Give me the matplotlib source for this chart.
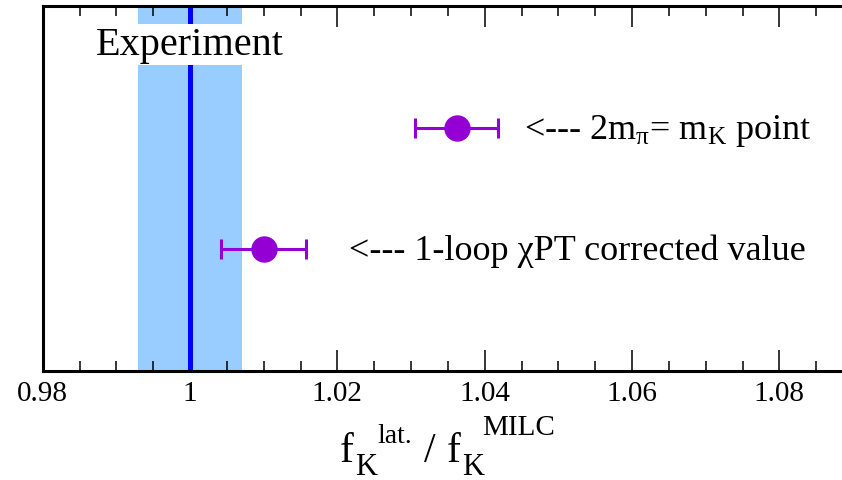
"""Ratio of lattice f_K to the MILC value, compared with experiment."""

import matplotlib.pyplot as plt
from matplotlib.ticker import MultipleLocator

plt.rcParams["font.family"] = ["Liberation Serif", "DejaVu Serif"]
plt.rcParams["mathtext.fontset"] = "custom"
plt.rcParams["mathtext.rm"] = "Liberation Serif"
plt.rcParams["mathtext.it"] = "Liberation Serif"

# experimental band (central value and half-width)
exp_center = 1.0
exp_halfwidth = 0.007

# lattice points
point_labels = [r"<--- 2m$_{\pi}$= m$_{K}$ point", "<--- 1-loop χPT corrected value"]
point_x = [1.0362, 1.0100]
point_err = [0.0056, 0.0058]
point_y = [2, 1]
label_x = [1.0453, 1.0216]

PURPLE = "#9400D3"
W, H = 842, 481

fig = plt.figure(figsize=(W / 100, H / 100), dpi=100)
ax = fig.add_axes([42.7 / W, 1 - 371.7 / H, 1 - 42.7 / W, (371.7 - 7) / H])

ax.axvspan(exp_center - exp_halfwidth, exp_center + exp_halfwidth,
           color="#99CCFF", lw=0, zorder=1)
ax.axvline(exp_center, color="#0000FF", lw=3.6, zorder=2)
ax.text(exp_center, 2.685, "Experiment", ha="center", va="center", fontsize=29,
        zorder=5, bbox=dict(facecolor="white", edgecolor="none", pad=1.5))

for x, err, y, lx, label in zip(point_x, point_err, point_y, label_x, point_labels):
    ax.errorbar(x, y, xerr=err, fmt="o", color=PURPLE, ms=18, elinewidth=2.2,
                capsize=7.5, capthick=2.2, zorder=4)
    ax.text(lx, y - 0.085, label, ha="left", va="baseline", fontsize=26)

ax.set_xlim(0.98, 1.0885)
ax.set_ylim(0, 3)
ax.xaxis.set_major_locator(MultipleLocator(0.02))
ax.xaxis.set_minor_locator(MultipleLocator(0.005))
ax.xaxis.set_major_formatter(plt.FuncFormatter(lambda v, _: f"{v:g}"))
ax.tick_params(axis="x", which="both", direction="in", top=True, width=1.1,
               labelsize=21, pad=7)
ax.tick_params(axis="x", which="major", length=15)
ax.tick_params(axis="x", which="minor", length=7.5)
ax.set_yticks([])
ax.spines["right"].set_visible(False)
for side in ("left", "bottom", "top"):
    ax.spines[side].set_linewidth(2.2)

# x-axis label f_K^lat. / f_K^MILC, set piece by piece
def put(x, y, s, size):
    fig.text(x / W, 1 - y / H, s, ha="left", va="baseline", fontsize=size)

put(340, 462, "f", 30)
put(355, 475, "K", 22)
put(377, 443, "lat.", 20)
put(424, 462, "/", 30)
put(447, 462, "f", 30)
put(462, 475, "K", 22)
put(482, 435, "MILC", 21)

fig.savefig("out.png", dpi=100)
